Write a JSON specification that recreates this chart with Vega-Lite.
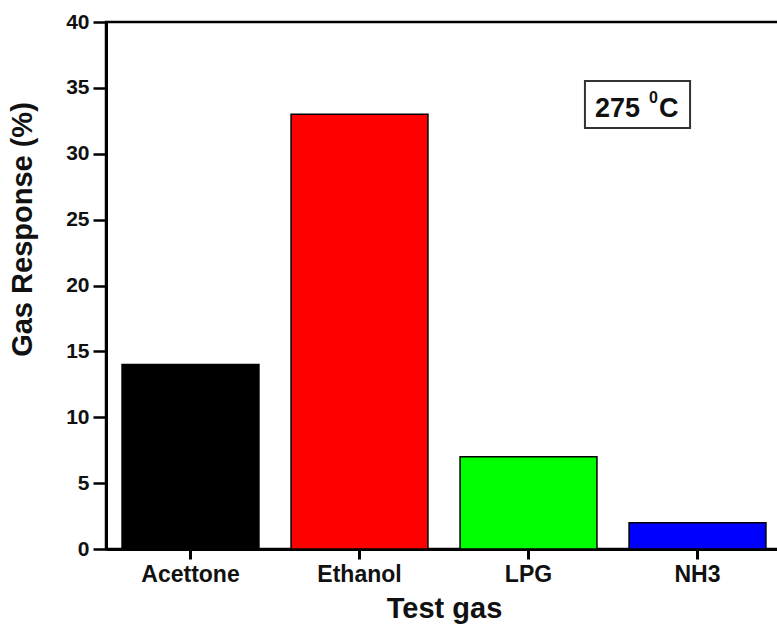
{
  "$schema": "https://vega.github.io/schema/vega-lite/v6.json",
  "autosize": "none",
  "padding": {"left": 106, "top": 22, "right": 0, "bottom": 78},
  "width": 676,
  "height": 527,
  "background": "white",
  "config": {
    "font": "Liberation Sans",
    "view": {"stroke": "black", "strokeWidth": 2.5},
    "axis": {
      "domainColor": "black",
      "domainWidth": 3,
      "tickColor": "black",
      "tickWidth": 2.5,
      "labelFont": "Liberation Sans",
      "labelFontWeight": "bold",
      "labelColor": "#111",
      "titleFont": "Liberation Sans",
      "titleFontWeight": "bold",
      "titleColor": "#111",
      "grid": false
    }
  },
  "resolve": {"scale": {"x": "independent"}, "axis": {"x": "independent"}},
  "layer": [
    {
      "data": {"values": [
        {"gas": "Acettone", "response": 14},
        {"gas": "Ethanol", "response": 33},
        {"gas": "LPG", "response": 7},
        {"gas": "NH3", "response": 2}
      ]},
      "mark": {"type": "bar", "stroke": "black", "strokeWidth": 1.5},
      "encoding": {
        "x": {
          "field": "gas", "type": "nominal", "sort": null,
          "scale": {"paddingInner": 0.19, "paddingOuter": 0.095},
          "axis": {
            "title": "Test gas", "labelAngle": 0, "labelFontSize": 23,
            "tickSize": 10, "tickWidth": 3, "labelPadding": 4,
            "titleFontSize": 29, "titlePadding": 8
          }
        },
        "y": {
          "field": "response", "type": "quantitative",
          "scale": {"domain": [0, 40], "nice": false},
          "axis": {
            "title": "Gas Response (%)",
            "values": [0, 2.5, 5, 7.5, 10, 12.5, 15, 17.5, 20, 22.5, 25, 27.5, 30, 32.5, 35, 37.5, 40],
            "labelExpr": "datum.value % 5 === 0 ? datum.label : ''",
            "tickSize": {"condition": {"test": "datum.value % 5 === 0", "value": 13}, "value": 6},
            "labelFontSize": 21, "labelPadding": 4,
            "titleFontSize": 29, "titlePadding": 28, "titleY": 207
          }
        },
        "color": {
          "field": "gas", "type": "nominal", "sort": null,
          "scale": {"domain": ["Acettone", "Ethanol", "LPG", "NH3"], "range": ["#000000", "#ff0000", "#00ff00", "#0000ff"]},
          "legend": null
        }
      }
    },
    {
      "data": {"values": [{"x1": 2.834, "x2": 3.456, "y1": 35.52, "y2": 31.95}]},
      "mark": {"type": "rect", "fill": "white", "stroke": "#333", "strokeWidth": 2},
      "encoding": {
        "x": {"field": "x1", "type": "quantitative", "scale": {"domain": [0, 4], "nice": false, "zero": false}, "axis": null},
        "x2": {"field": "x2"},
        "y": {"field": "y1", "type": "quantitative"},
        "y2": {"field": "y2"}
      }
    },
    {
      "data": {"values": [{"px": 2.893, "py": 32.79, "label": "275"}]},
      "mark": {"type": "text", "align": "left", "baseline": "alphabetic", "fontSize": 27, "fontWeight": "bold", "color": "#111"},
      "encoding": {
        "x": {"field": "px", "type": "quantitative", "scale": {"domain": [0, 4], "nice": false, "zero": false}, "axis": null},
        "y": {"field": "py", "type": "quantitative"},
        "text": {"field": "label"}
      }
    },
    {
      "data": {"values": [{"px": 3.213, "py": 33.85, "label": "0"}]},
      "mark": {"type": "text", "align": "left", "baseline": "alphabetic", "fontSize": 16, "fontWeight": "bold", "color": "#111"},
      "encoding": {
        "x": {"field": "px", "type": "quantitative", "scale": {"domain": [0, 4], "nice": false, "zero": false}, "axis": null},
        "y": {"field": "py", "type": "quantitative"},
        "text": {"field": "label"}
      }
    },
    {
      "data": {"values": [{"px": 3.272, "py": 32.79, "label": "C"}]},
      "mark": {"type": "text", "align": "left", "baseline": "alphabetic", "fontSize": 27, "fontWeight": "bold", "color": "#111"},
      "encoding": {
        "x": {"field": "px", "type": "quantitative", "scale": {"domain": [0, 4], "nice": false, "zero": false}, "axis": null},
        "y": {"field": "py", "type": "quantitative"},
        "text": {"field": "label"}
      }
    }
  ]
}
